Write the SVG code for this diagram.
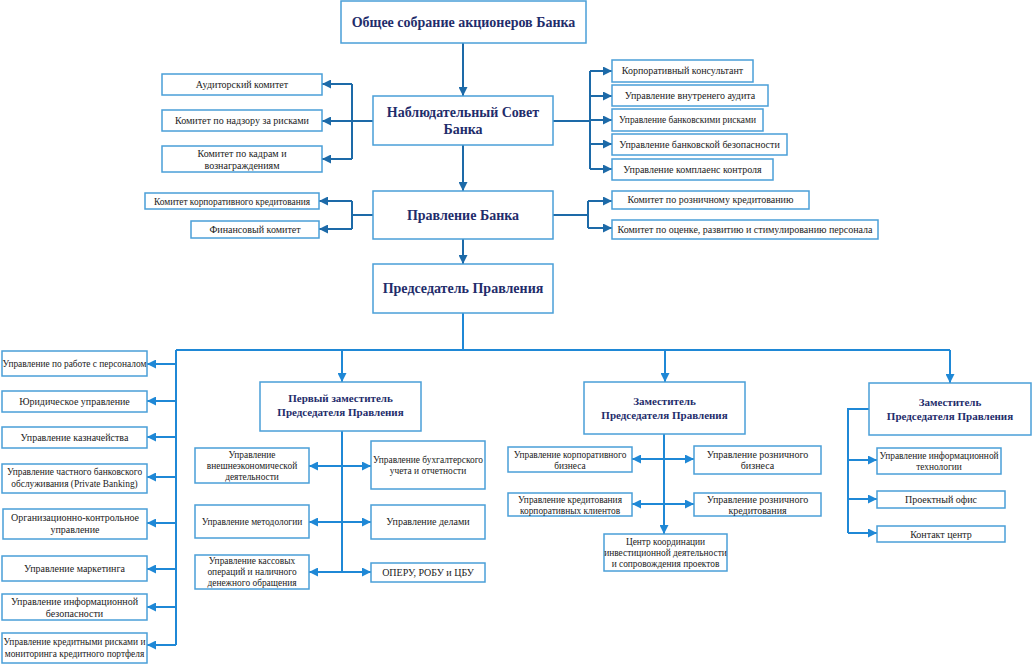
<svg xmlns="http://www.w3.org/2000/svg" width="1032" height="664" viewBox="0 0 1032 664">
<defs>
<style>
text{font-family:'Liberation Serif','Noto Serif','DejaVu Serif','Times New Roman',Times,serif}
.b{fill:#fff;stroke:#4a9fd8;stroke-width:1.5}
.t{font-size:10px;fill:#222;text-anchor:middle}
.s{font-size:9.4px}
.h{font-weight:bold;font-size:14px;fill:#1f2d6b;text-anchor:middle}
.d{font-weight:bold;font-size:11px;fill:#1f2d6b;text-anchor:middle}
.c1{fill:none;stroke:#1d6aa8;stroke-width:2}
.c2{fill:none;stroke:#1f88d6;stroke-width:2}
</style>
<marker id="a1" viewBox="0 0 10 10" refX="10" refY="5" markerWidth="9" markerHeight="9" markerUnits="userSpaceOnUse" orient="auto-start-reverse"><path d="M0,0L10,5L0,10z" fill="#1d6aa8"/></marker>
<marker id="a2" viewBox="0 0 10 10" refX="10" refY="5" markerWidth="9" markerHeight="9" markerUnits="userSpaceOnUse" orient="auto-start-reverse"><path d="M0,0L10,5L0,10z" fill="#1f88d6"/></marker>
</defs>
<rect width="1032" height="664" fill="#fff"/>
<g id="connectors">
<path class="c1" d="M463,43V96" marker-end="url(#a1)"/>
<path class="c1" d="M463,145V191" marker-end="url(#a1)"/>
<path class="c1" d="M463,239V264" marker-end="url(#a1)"/>
<path class="c1" d="M373,121H352"/>
<path class="c1" d="M352,84V159"/>
<path class="c1" d="M352,84H322" marker-end="url(#a1)"/>
<path class="c1" d="M352,121H322" marker-end="url(#a1)"/>
<path class="c1" d="M352,159H322" marker-end="url(#a1)"/>
<path class="c1" d="M373,215H352"/>
<path class="c1" d="M352,201V229"/>
<path class="c1" d="M352,201H319" marker-end="url(#a1)"/>
<path class="c1" d="M352,229H319" marker-end="url(#a1)"/>
<path class="c1" d="M553,121H590"/>
<path class="c1" d="M590,71V169"/>
<path class="c1" d="M590,71H612" marker-end="url(#a1)"/>
<path class="c1" d="M590,96H612" marker-end="url(#a1)"/>
<path class="c1" d="M590,120H612" marker-end="url(#a1)"/>
<path class="c1" d="M590,144H612" marker-end="url(#a1)"/>
<path class="c1" d="M590,169H612" marker-end="url(#a1)"/>
<path class="c1" d="M553,215H588"/>
<path class="c1" d="M588,201V228"/>
<path class="c1" d="M588,201H612" marker-end="url(#a1)"/>
<path class="c1" d="M588,228H612" marker-end="url(#a1)"/>
<path class="c2" d="M463,313V350"/>
<path class="c2" d="M176,350H950"/>
<path class="c2" d="M176,350V645"/>
<path class="c2" d="M176,364H147" marker-end="url(#a2)"/>
<path class="c2" d="M176,401H147" marker-end="url(#a2)"/>
<path class="c2" d="M176,437H147" marker-end="url(#a2)"/>
<path class="c2" d="M176,477H147" marker-end="url(#a2)"/>
<path class="c2" d="M176,523H147" marker-end="url(#a2)"/>
<path class="c2" d="M176,569H147" marker-end="url(#a2)"/>
<path class="c2" d="M176,607H147" marker-end="url(#a2)"/>
<path class="c2" d="M176,645H147" marker-end="url(#a2)"/>
<path class="c2" d="M342,350V382" marker-end="url(#a2)"/>
<path class="c2" d="M665,350V382" marker-end="url(#a2)"/>
<path class="c2" d="M950,350V383" marker-end="url(#a2)"/>
<path class="c2" d="M342,431V572"/>
<path class="c2" d="M309,466H371" marker-start="url(#a2)" marker-end="url(#a2)"/>
<path class="c2" d="M309,522H371" marker-start="url(#a2)" marker-end="url(#a2)"/>
<path class="c2" d="M309,572H371" marker-start="url(#a2)" marker-end="url(#a2)"/>
<path class="c2" d="M664,434V534" marker-end="url(#a2)"/>
<path class="c2" d="M632,459H694" marker-start="url(#a2)" marker-end="url(#a2)"/>
<path class="c2" d="M632,504H694" marker-start="url(#a2)" marker-end="url(#a2)"/>
<path class="c2" d="M869,409H848V533"/>
<path class="c2" d="M848,460H877" marker-end="url(#a2)"/>
<path class="c2" d="M848,499H877" marker-end="url(#a2)"/>
<path class="c2" d="M848,533H877" marker-end="url(#a2)"/>
</g>
<g id="n-obshchee"><rect class="b" x="341" y="1" width="245" height="42"/><text class="h" x="463.5" y="27">Общее собрание акционеров Банка</text></g>
<g id="n-nabl"><rect class="b" x="373" y="96" width="180" height="49"/><text class="h" x="463" y="117">Наблюдательный Совет</text><text class="h" x="463" y="134">Банка</text></g>
<g id="n-audit"><rect class="b" x="162" y="74" width="160" height="21"/><text class="t" x="242" y="88">Аудиторский комитет</text></g>
<g id="n-nadzor"><rect class="b" x="162" y="110" width="160" height="21"/><text class="t" x="242" y="124">Комитет по надзору за рисками</text></g>
<g id="n-kadry"><rect class="b" x="162" y="146" width="160" height="26"/><text class="t" x="242" y="157">Комитет по кадрам и</text><text class="t" x="242" y="169">вознаграждениям</text></g>
<g id="n-pravlenie"><rect class="b" x="373" y="191" width="180" height="48"/><text class="h" x="463" y="220">Правление Банка</text></g>
<g id="n-korpkred"><rect class="b" x="145" y="193" width="174" height="16"/><text class="t s" x="232" y="204.5">Комитет корпоративного кредитования</text></g>
<g id="n-fin"><rect class="b" x="191" y="221" width="128" height="17"/><text class="t" x="255" y="233">Финансовый комитет</text></g>
<g id="n-konsult"><rect class="b" x="612" y="60" width="141" height="22"/><text class="t" x="682.5" y="74">Корпоративный консультант</text></g>
<g id="n-vnaudit"><rect class="b" x="612" y="85" width="156" height="21"/><text class="t" x="690" y="99">Управление внутренего аудита</text></g>
<g id="n-riski"><rect class="b" x="612" y="109" width="151" height="22"/><text class="t s" x="687.5" y="123">Управление банковскими рисками</text></g>
<g id="n-bezop"><rect class="b" x="612" y="134" width="175" height="21"/><text class="t" x="699.5" y="148">Управление банковской безопасности</text></g>
<g id="n-komplaens"><rect class="b" x="612" y="159" width="161" height="21"/><text class="t" x="692.5" y="173">Управление комплаенс контроля</text></g>
<g id="n-rozkred"><rect class="b" x="612" y="191" width="197" height="18"/><text class="t" x="710.5" y="203">Комитет по розничному кредитованию</text></g>
<g id="n-ocenka"><rect class="b" x="612" y="220" width="266" height="19"/><text class="t" x="745" y="233">Комитет по оценке, развитию и стимулированию персонала</text></g>
<g id="n-pred"><rect class="b" x="373" y="264" width="180" height="49"/><text class="h" x="463" y="293">Председатель Правления</text></g>
<g id="n-personal"><rect class="b" x="2" y="351" width="145" height="25"/><text class="t s" x="74.5" y="367">Управление по работе с персоналом</text></g>
<g id="n-yur"><rect class="b" x="2" y="391" width="145" height="21"/><text class="t" x="74.5" y="405">Юридическое управление</text></g>
<g id="n-kazn"><rect class="b" x="2" y="427" width="145" height="21"/><text class="t" x="74.5" y="441">Управление казначейства</text></g>
<g id="n-private"><rect class="b" x="2" y="464" width="145" height="29"/><text class="t s" x="74.5" y="475">Управление частного банковского</text><text class="t s" x="74.5" y="487">обслуживания (Private Banking)</text></g>
<g id="n-orgkontr"><rect class="b" x="3" y="509" width="144" height="30"/><text class="t" x="75" y="521">Организационно-контрольное</text><text class="t" x="75" y="533">управление</text></g>
<g id="n-marketing"><rect class="b" x="2" y="556" width="145" height="25"/><text class="t" x="74.5" y="572">Управление маркетинга</text></g>
<g id="n-infobez"><rect class="b" x="2" y="594" width="145" height="26"/><text class="t" x="74.5" y="605">Управление информационной</text><text class="t" x="74.5" y="617">безопасности</text></g>
<g id="n-kredriski"><rect class="b" x="2" y="633" width="145" height="30"/><text class="t s" x="74.5" y="645">Управление кредитными рисками и</text><text class="t s" x="74.5" y="657">мониторинга кредитного портфеля</text></g>
<g id="n-dep1"><rect class="b" x="260" y="382" width="161" height="49"/><text class="d" x="340.5" y="402">Первый заместитель</text><text class="d" x="340.5" y="416">Председателя Правления</text></g>
<g id="n-ved"><rect class="b" x="195" y="448" width="114" height="35"/><text class="t s" x="252" y="458">Управление</text><text class="t s" x="252" y="469">внешнеэкономической</text><text class="t s" x="252" y="480">деятельности</text></g>
<g id="n-metod"><rect class="b" x="195" y="505" width="114" height="33"/><text class="t s" x="252" y="525">Управление методологии</text></g>
<g id="n-kassa"><rect class="b" x="195" y="555" width="114" height="34"/><text class="t s" x="252" y="564">Управление кассовых</text><text class="t s" x="252" y="575">операций и наличного</text><text class="t s" x="252" y="586">денежного обращения</text></g>
<g id="n-buh"><rect class="b" x="371" y="441" width="114" height="48"/><text class="t s" x="428" y="463">Управление бухгалтерского</text><text class="t s" x="428" y="474">учета и отчетности</text></g>
<g id="n-dela"><rect class="b" x="371" y="505" width="114" height="34"/><text class="t" x="428" y="525">Управление делами</text></g>
<g id="n-operu"><rect class="b" x="371" y="563" width="114" height="19"/><text class="t" x="428" y="576">ОПЕРУ, РОБУ и ЦБУ</text></g>
<g id="n-dep2"><rect class="b" x="584" y="382" width="161" height="52"/><text class="d" x="664.5" y="405">Заместитель</text><text class="d" x="664.5" y="419">Председателя Правления</text></g>
<g id="n-korpbiz"><rect class="b" x="508" y="447" width="124" height="25"/><text class="t s" x="570" y="458">Управление корпоративного</text><text class="t s" x="570" y="469">бизнеса</text></g>
<g id="n-korpklient"><rect class="b" x="508" y="493" width="124" height="23"/><text class="t s" x="570" y="503">Управление кредитования</text><text class="t s" x="570" y="514">корпоративных клиентов</text></g>
<g id="n-rozbiz"><rect class="b" x="694" y="446" width="127" height="28"/><text class="t" x="757.5" y="458">Управление розничного</text><text class="t" x="757.5" y="469">бизнеса</text></g>
<g id="n-rozkredupr"><rect class="b" x="694" y="493" width="127" height="23"/><text class="t" x="757.5" y="503">Управление розничного</text><text class="t" x="757.5" y="514">кредитования</text></g>
<g id="n-centr"><rect class="b" x="604" y="534" width="123" height="37"/><text class="t s" x="665.5" y="545">Центр координации</text><text class="t s" x="665.5" y="556">инвестиционной деятельности</text><text class="t s" x="665.5" y="567">и сопровождения проектов</text></g>
<g id="n-dep3"><rect class="b" x="869" y="383" width="162" height="52"/><text class="d" x="950" y="406">Заместитель</text><text class="d" x="950" y="420">Председателя Правления</text></g>
<g id="n-it"><rect class="b" x="877" y="448" width="124" height="26"/><text class="t s" x="939" y="459">Управление информационной</text><text class="t s" x="939" y="470">технологии</text></g>
<g id="n-proekt"><rect class="b" x="877" y="491" width="128" height="17"/><text class="t" x="941" y="503">Проектный офис</text></g>
<g id="n-kontakt"><rect class="b" x="877" y="526" width="128" height="16"/><text class="t" x="941" y="538">Контакт центр</text></g>
</svg>
